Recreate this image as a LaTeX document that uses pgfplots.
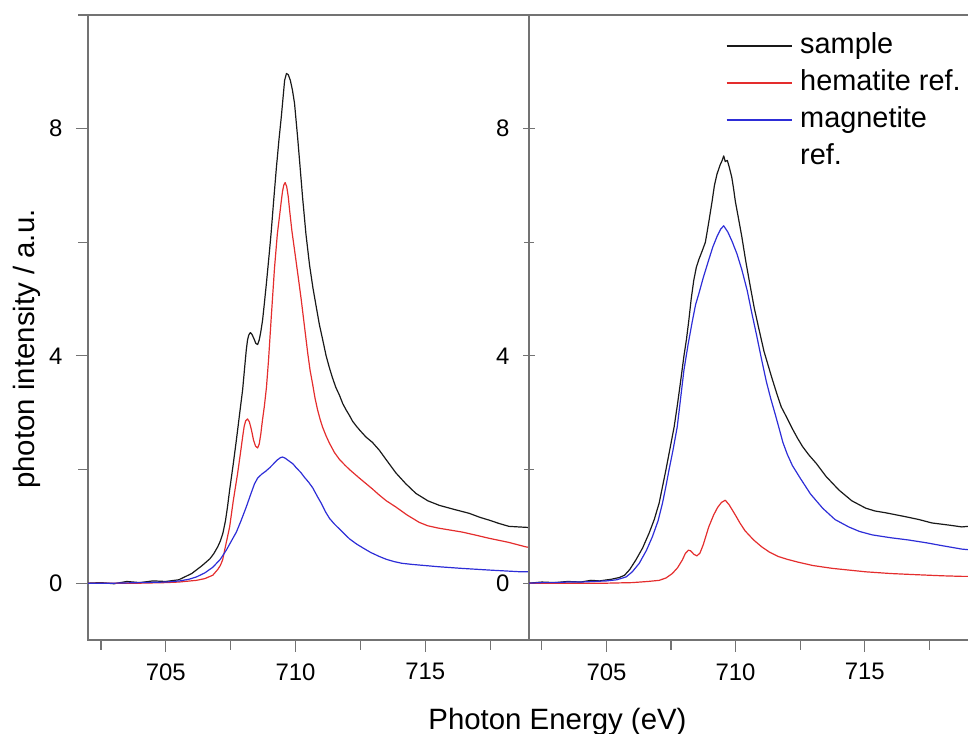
\documentclass[border=0pt]{standalone}
\usepackage{fontspec}
\setmainfont{Liberation Sans}
\usepackage{pgfplots}
\usepackage{pgfplotstable}
\pgfplotsset{compat=1.18}
\definecolor{axgray}{RGB}{115,115,115}
\definecolor{cblack}{RGB}{25,25,25}
\definecolor{cred}{RGB}{228,45,45}
\definecolor{cblue}{RGB}{45,45,215}

% Left panel
\pgfplotstableread{
E v
702.0 0.0
702.5 0.01
703.0 -0.01
703.5 0.03
704.0 0.01
704.5 0.04
705.0 0.03
705.5 0.06
706.0 0.17
706.2 0.24
706.4 0.31
706.55 0.37
706.7 0.43
706.85 0.52
707.0 0.64
707.1 0.74
707.2 0.88
707.3 1.10
707.38 1.35
707.46 1.64
707.6 2.10
707.72 2.52
707.85 3.00
707.96 3.40
708.05 3.85
708.1 4.10
708.15 4.28
708.2 4.37
708.26 4.41
708.32 4.38
708.4 4.30
708.47 4.22
708.54 4.20
708.6 4.28
708.66 4.42
708.73 4.63
708.8 4.93
708.88 5.29
708.97 5.72
709.06 6.17
709.16 6.75
709.26 7.30
709.36 7.80
709.45 8.20
709.52 8.55
709.58 8.85
709.65 8.97
709.72 8.95
709.8 8.85
709.88 8.68
709.96 8.45
710.08 7.85
710.18 7.30
710.27 6.80
710.4 6.15
710.54 5.60
710.67 5.20
710.80 4.86
710.92 4.55
711.04 4.30
711.18 4.00
711.3 3.80
711.42 3.62
711.55 3.45
711.70 3.30
711.82 3.16
711.95 3.05
712.08 2.95
712.20 2.85
712.35 2.76
712.50 2.68
712.72 2.57
712.96 2.48
713.23 2.34
713.50 2.17
713.87 1.94
714.25 1.75
714.64 1.58
715.10 1.45
715.54 1.37
716.10 1.30
716.69 1.23
717.10 1.16
717.46 1.11
717.85 1.05
718.23 1.00
718.60 0.99
719.00 0.98
}\LBlack
\pgfplotstableread{
E v
702.0 0.0
703.0 0.0
704.0 0.0
705.0 0.01
705.5 0.02
706.18 0.05
706.5 0.08
706.81 0.14
707.0 0.24
707.1 0.31
707.19 0.41
707.3 0.65
707.38 0.82
707.46 0.99
707.6 1.45
707.77 1.94
707.88 2.30
707.96 2.57
708.02 2.76
708.08 2.86
708.15 2.89
708.22 2.84
708.3 2.70
708.38 2.52
708.46 2.41
708.54 2.38
708.6 2.45
708.66 2.62
708.72 2.85
708.8 3.12
708.88 3.45
708.96 3.93
709.06 4.65
709.19 5.55
709.3 6.15
709.38 6.45
709.45 6.72
709.5 6.90
709.55 7.01
709.6 7.05
709.66 6.98
709.72 6.80
709.77 6.57
709.86 6.20
709.96 5.87
710.1 5.40
710.22 4.99
710.35 4.50
710.47 4.05
710.56 3.75
710.66 3.50
710.75 3.26
710.85 3.05
710.95 2.88
711.04 2.75
711.17 2.60
711.3 2.47
711.5 2.30
711.69 2.18
711.9 2.08
712.08 2.00
712.46 1.85
712.96 1.66
713.23 1.55
713.5 1.45
713.87 1.34
714.30 1.20
714.77 1.07
715.1 1.01
715.50 0.97
716.42 0.90
717.00 0.84
717.46 0.79
718.20 0.72
718.87 0.64
719.00 0.63
}\LRed
\pgfplotstableread{
E v
702.0 0.0
703.0 0.0
704.0 0.01
705.0 0.02
705.54 0.04
705.9 0.07
706.18 0.11
706.5 0.18
706.81 0.28
707.1 0.42
707.33 0.58
707.5 0.72
707.72 0.90
707.9 1.10
708.1 1.34
708.3 1.60
708.42 1.75
708.54 1.85
708.7 1.92
708.85 1.97
709.0 2.03
709.15 2.10
709.3 2.17
709.42 2.21
709.5 2.22
709.6 2.20
709.75 2.15
709.9 2.10
710.03 2.03
710.2 1.95
710.35 1.86
710.5 1.78
710.66 1.68
710.85 1.52
711.0 1.40
711.15 1.26
711.31 1.14
711.5 1.04
711.7 0.95
711.9 0.86
712.08 0.78
712.35 0.69
712.6 0.62
712.9 0.54
713.23 0.47
713.5 0.42
713.8 0.38
714.1 0.35
714.5 0.33
715.0 0.31
715.5 0.29
716.42 0.26
717.5 0.23
718.7 0.20
719.0 0.20
}\LBlue

% Right panel
\pgfplotstableread{
E v
702.0 0.0
702.5 0.02
703.0 0.01
703.5 0.03
704.0 0.02
704.4 0.05
704.73 0.04
705.2 0.07
705.5 0.10
705.7 0.14
705.9 0.24
706.14 0.41
706.4 0.62
706.65 0.88
706.85 1.12
707.04 1.41
707.17 1.70
707.3 1.99
707.46 2.37
707.62 2.75
707.75 3.15
707.87 3.55
708.0 4.00
708.1 4.30
708.19 4.63
708.28 5.00
708.38 5.33
708.48 5.56
708.58 5.70
708.7 5.84
708.83 6.00
708.96 6.35
709.09 6.72
709.18 7.00
709.28 7.20
709.4 7.36
709.48 7.44
709.54 7.52
709.6 7.42
709.68 7.44
709.75 7.33
709.85 7.15
709.92 6.95
709.99 6.72
710.1 6.45
710.24 6.10
710.4 5.65
710.57 5.22
710.72 4.85
710.88 4.52
711.0 4.28
711.1 4.08
711.25 3.85
711.4 3.62
711.6 3.33
711.77 3.10
712.0 2.90
712.22 2.70
712.4 2.55
712.6 2.40
712.85 2.25
713.12 2.11
713.5 1.88
714.0 1.64
714.5 1.45
715.04 1.32
715.4 1.27
715.8 1.24
716.58 1.17
717.1 1.12
717.6 1.06
718.3 1.02
718.76 0.99
719.0 1.00
}\RBlack
\pgfplotstableread{
E v
702.0 0.0
703.0 0.0
704.0 0.0
705.0 0.0
706.0 0.01
706.6 0.03
707.04 0.05
707.3 0.09
707.55 0.17
707.75 0.27
707.94 0.41
708.05 0.52
708.17 0.58
708.26 0.57
708.38 0.51
708.5 0.48
708.62 0.53
708.75 0.68
708.96 0.99
709.15 1.20
709.3 1.33
709.45 1.42
709.6 1.46
709.75 1.38
709.99 1.20
710.18 1.05
710.37 0.92
710.7 0.76
711.01 0.64
711.3 0.55
711.65 0.47
712.0 0.42
712.42 0.37
713.0 0.31
713.76 0.26
714.4 0.23
715.04 0.20
716.0 0.17
716.96 0.15
718.0 0.13
718.76 0.12
719.0 0.12
}\RRed
\pgfplotstableread{
E v
702.0 0.0
702.5 0.01
703.0 0.01
703.5 0.02
704.0 0.02
704.5 0.03
705.0 0.04
705.4 0.06
705.76 0.11
706.0 0.20
706.27 0.35
706.55 0.58
706.78 0.82
707.0 1.10
707.17 1.41
707.3 1.70
707.42 1.99
707.58 2.35
707.74 2.75
707.87 3.25
708.0 3.75
708.16 4.20
708.32 4.60
708.45 4.90
708.58 5.10
708.75 5.38
708.96 5.69
709.12 5.92
709.28 6.10
709.42 6.23
709.54 6.29
709.7 6.18
709.86 6.02
710.05 5.80
710.24 5.52
710.45 5.15
710.63 4.75
710.82 4.35
711.01 3.93
711.19 3.55
711.36 3.25
711.53 2.98
711.7 2.70
711.83 2.48
712.0 2.27
712.2 2.07
712.5 1.85
712.9 1.57
713.37 1.32
713.85 1.12
714.38 0.99
714.8 0.91
715.29 0.85
716.0 0.80
716.7 0.76
717.4 0.71
718.0 0.66
718.76 0.60
719.0 0.59
}\RBlue

\pgfplotsset{
  panel/.style={
    scale only axis, height=625bp,
    xmin=702, xmax=719, ymin=-1, ymax=10,
    xtick={705,710,715}, minor xtick={702.5,707.5,712.5,717.5},
    ytick={0,4,8}, minor ytick={2,6,10},
    xtick pos=bottom, ytick pos=left,
    tick align=outside, major tick length=12bp, minor tick length=10bp,
    axis line style={axgray, line width=1.2bp},
    tick style={axgray, line width=1.1bp},
    ticklabel style={font=\fontsize{24}{27}\selectfont, text=black},
    xticklabel style={yshift=-8bp},
    yticklabel style={xshift=-10bp},
    /pgf/number format/assume math mode=true,
    /pgf/number format/set thousands separator={},
    every axis plot/.append style={line width=1.2bp, line join=round},
  }
}

\begin{document}
\begin{tikzpicture}
\useasboundingbox (0,0) rectangle (968bp,734bp);
\begin{axis}[panel, width=441bp, at={(88bp,94bp)}, anchor=south west]
\addplot[cblack] table[x=E,y=v] {\LBlack};
\addplot[cred] table[x=E,y=v] {\LRed};
\addplot[cblue] table[x=E,y=v] {\LBlue};
\end{axis}
\begin{axis}[panel, width=439bp, at={(529bp,94bp)}, anchor=south west,
  axis x line=box, axis y line=left,
  every outer y axis line/.append style={-}, y axis line style={-},
  legend cell align=left,
  legend image code/.code={\draw[#1] (0bp,0bp) -- (65bp,0bp);},
  legend style={at={(axis description cs:0.4487,0.98)}, anchor=north west,
    draw=none, fill=none, inner sep=0pt, outer sep=0pt, row sep=0pt, column sep=8bp,
    font=\fontsize{29}{35}\selectfont,
    nodes={inner sep=0pt, text height=26bp, text depth=11bp}}]
\addplot[cblack] table[x=E,y=v] {\RBlack};
\addlegendentry{sample}
\addplot[cred] table[x=E,y=v] {\RRed};
\addlegendentry{hematite ref.}
\addplot[cblue] table[x=E,y=v] {\RBlue};
\addlegendentry{magnetite}
\addlegendimage{empty legend}
\addlegendentry{ref.}
\end{axis}
\node[rotate=90, font=\fontsize{29.5}{34}\selectfont] at (27bp,385bp) {photon intensity / a.u.};
\node[anchor=base, font=\fontsize{29.5}{34}\selectfont] at (557.5bp,5bp) {Photon Energy (eV)};
\end{tikzpicture}
\end{document}
